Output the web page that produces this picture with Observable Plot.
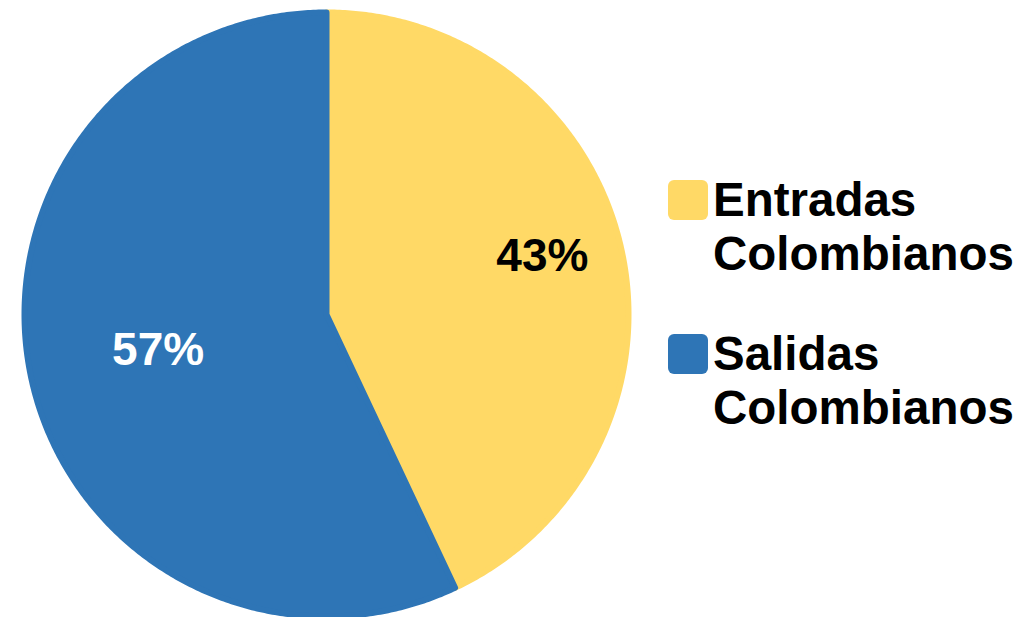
<!DOCTYPE html>
<html>
<head>
<meta charset="utf-8">
<script src="https://cdn.jsdelivr.net/npm/d3@7"></script>
<script src="https://cdn.jsdelivr.net/npm/@observablehq/plot@0.6"></script>
<style>
  html, body { margin: 0; padding: 0; background: #fff; }
  #wrap { position: relative; width: 1020px; height: 617px; overflow: hidden; font-family: "Liberation Sans", Arial, sans-serif; }
  .leg { position: absolute; left: 668px; }
  .sw { position: absolute; left: 0; width: 40px; height: 40px; border-radius: 6px; }
  .lt { position: absolute; left: 45px; font-size: 47.5px; font-weight: bold; line-height: 54px; color: #000; white-space: nowrap; }
</style>
</head>
<body>
<div id="wrap"></div>
<script>
// Data
const categories = ["Entradas Colombianos", "Salidas Colombianos"];
const shares = [43, 57];
const labels = ["43%", "57%"];
const colors = ["#FFD966", "#2E75B6"];
const labelColors = ["#000000", "#ffffff"];

// Label placement (style): polar position as fraction of radius, angle in degrees from 12 o'clock
const labelPlacement = [{r: 0.74, a: 75}, {r: 0.57, a: 258}];

const total = d3.sum(shares);
let acc = 0;
const slices = categories.map((c, i) => {
  const a0 = acc / total * 2 * Math.PI;
  acc += shares[i];
  const a1 = acc / total * 2 * Math.PI;
  return {category: c, a0, a1, i};
});

// polygon outline for each slice (center + arc)
const pts = [];
slices.forEach(s => {
  pts.push({category: s.category, x: 0, y: 0});
  const n = Math.max(2, Math.ceil((s.a1 - s.a0) / (Math.PI / 360)));
  for (let k = 0; k <= n; k++) {
    const a = s.a0 + (s.a1 - s.a0) * k / n;
    pts.push({category: s.category, x: Math.sin(a), y: Math.cos(a)});
  }
});

const labelData = slices.map((s, i) => {
  const p = labelPlacement[i];
  const a = p.a * Math.PI / 180;
  return {text: labels[i], x: p.r * Math.sin(a), y: p.r * Math.cos(a), color: labelColors[i]};
});

const chart = Plot.plot({
  width: 1020,
  height: 617,
  marginLeft: 24,
  marginRight: 392,
  marginTop: 12,
  marginBottom: 1,
  x: {domain: [-1, 1], axis: null},
  y: {domain: [-1, 1], axis: null},
  color: {domain: categories, range: colors},
  style: {background: "transparent", overflow: "visible"},
  marks: [
    Plot.line(pts, {x: "x", y: "y", z: "category", fill: "category", stroke: "category",
      strokeWidth: 6, strokeLinejoin: "round", curve: "linear-closed"}),
    Plot.text(labelData, {x: "x", y: "y", text: "text", fill: "color",
      fontSize: 46, fontWeight: "bold", fontFamily: "Liberation Sans, Arial, sans-serif"})
  ]
});

const wrap = document.getElementById("wrap");
wrap.appendChild(chart);

// Legend
const legendTops = [173, 327];
categories.forEach((c, i) => {
  const g = document.createElement("div");
  g.className = "leg";
  g.style.top = legendTops[i] + "px";
  const sw = document.createElement("div");
  sw.className = "sw";
  sw.style.top = "7px";
  sw.style.background = colors[i];
  const t = document.createElement("div");
  t.className = "lt";
  t.innerHTML = c.split(" ").join("<br>");
  g.appendChild(sw);
  g.appendChild(t);
  wrap.appendChild(g);
});
</script>
</body>
</html>
